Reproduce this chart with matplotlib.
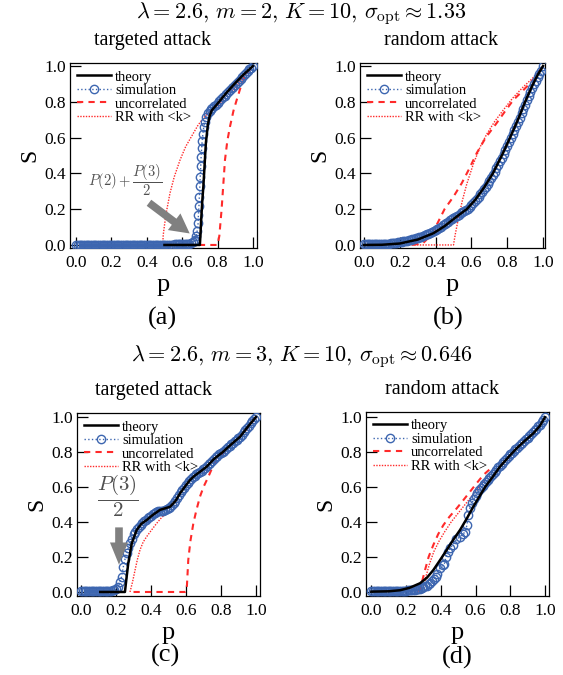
import numpy as np
import matplotlib
import matplotlib.pyplot as plt

matplotlib.use("Agg")

plt.rcParams["font.family"] = ["Liberation Serif", "DejaVu Serif"]
plt.rcParams["mathtext.fontset"] = "cm"

# ---------------- panel (a): m=2, targeted attack ----------------
theory_p_a = [0.50, 0.70, 0.703, 0.708, 0.714, 0.72, 0.727, 0.734, 0.745, 0.755, 0.767,
              0.80, 0.85, 0.90, 0.95, 1.0]
theory_S_a = [0.0, 0.0, 0.05, 0.15, 0.25, 0.33, 0.45, 0.57, 0.67, 0.72, 0.752,
              0.79, 0.85, 0.905, 0.955, 1.0]
sim_p_a = [0.00, 0.01, 0.02, 0.03, 0.04, 0.05, 0.06, 0.07, 0.08, 0.09,
           0.10, 0.11, 0.12, 0.13, 0.14, 0.15, 0.16, 0.17, 0.18, 0.19,
           0.20, 0.21, 0.22, 0.23, 0.24, 0.25, 0.26, 0.27, 0.28, 0.29,
           0.30, 0.31, 0.32, 0.33, 0.34, 0.35, 0.36, 0.37, 0.38, 0.39,
           0.40, 0.41, 0.42, 0.43, 0.44, 0.45, 0.46, 0.47, 0.48, 0.49,
           0.50, 0.51, 0.52, 0.53, 0.54, 0.55, 0.56, 0.57, 0.58, 0.59,
           0.60, 0.61, 0.62, 0.63, 0.64, 0.65, 0.66,
           0.67, 0.675, 0.68, 0.685, 0.69, 0.692, 0.695, 0.697, 0.70, 0.702, 0.705,
           0.707, 0.71, 0.713, 0.717, 0.722, 0.728, 0.735, 0.745, 0.755, 0.765,
           0.77, 0.78, 0.79, 0.80, 0.81, 0.82, 0.83, 0.84, 0.85, 0.86,
           0.87, 0.88, 0.89, 0.90, 0.91, 0.92, 0.93, 0.94, 0.95, 0.96,
           0.97, 0.98, 0.99, 1.00]
sim_S_a = [0.0, 0.0, 0.0, 0.0, 0.0, 0.0, 0.0, 0.0, 0.0, 0.0,
           0.0, 0.0, 0.0, 0.0, 0.0, 0.0, 0.0, 0.0, 0.0, 0.0,
           0.0, 0.0, 0.0, 0.0, 0.0, 0.0, 0.0, 0.0, 0.0, 0.0,
           0.0, 0.0, 0.0, 0.0, 0.0, 0.0, 0.0, 0.0, 0.0, 0.0,
           0.0, 0.0, 0.0, 0.0, 0.001, 0.001, 0.001, 0.001, 0.001, 0.001,
           0.002, 0.002, 0.002, 0.002, 0.002, 0.002, 0.003, 0.003, 0.003, 0.003,
           0.003, 0.004, 0.005, 0.006, 0.008, 0.011, 0.015,
           0.022, 0.03, 0.05, 0.08, 0.12, 0.17, 0.22, 0.27, 0.33, 0.38, 0.44,
           0.49, 0.54, 0.58, 0.62, 0.66, 0.69, 0.715, 0.735, 0.75, 0.76,
           0.765, 0.775, 0.785, 0.795, 0.805, 0.815, 0.825, 0.835, 0.845, 0.855,
           0.865, 0.875, 0.885, 0.895, 0.905, 0.915, 0.927, 0.94, 0.952, 0.963,
           0.973, 0.982, 0.991, 1.0]
unc_p_a = [0.50, 0.80, 0.81, 0.823, 0.832, 0.842, 0.855, 0.87, 0.89, 0.908, 0.93, 0.955, 0.975, 1.0]
unc_S_a = [0.0, 0.0, 0.05, 0.2, 0.33, 0.475, 0.58, 0.66, 0.75, 0.81, 0.88, 0.94, 0.97, 1.0]
rr_p_a = [0.49, 0.493, 0.50, 0.51, 0.531, 0.555, 0.588, 0.62, 0.663, 0.69, 0.719, 0.75,
          0.80, 0.85, 0.90, 0.95, 1.0]
rr_S_a = [0.0, 0.056, 0.11, 0.18, 0.289, 0.38, 0.475, 0.55, 0.624, 0.67, 0.708, 0.74,
          0.78, 0.83, 0.88, 0.94, 1.0]

# ---------------- panel (b): m=2, random attack ----------------
theory_p_b = [0.0, 0.10, 0.20, 0.30, 0.387, 0.45, 0.52, 0.574, 0.62, 0.67, 0.72, 0.77,
              0.816, 0.86, 0.90, 0.94, 0.97, 1.0]
theory_S_b = [0.0, 0.001, 0.008, 0.03, 0.065, 0.105, 0.16, 0.2, 0.25, 0.32, 0.4, 0.5,
              0.6, 0.7, 0.8, 0.89, 0.95, 1.0]
sim_p_b = [0.00, 0.01, 0.02, 0.03, 0.04, 0.05, 0.06, 0.07, 0.08, 0.09,
           0.10, 0.11, 0.12, 0.13, 0.14, 0.15, 0.16, 0.17, 0.18, 0.19,
           0.20, 0.21, 0.22, 0.23, 0.24, 0.25, 0.26, 0.27, 0.28, 0.29,
           0.30, 0.31, 0.32, 0.33, 0.34, 0.35, 0.36, 0.37, 0.38, 0.39,
           0.40, 0.41, 0.42, 0.43, 0.44, 0.45, 0.46, 0.47, 0.48, 0.49,
           0.50, 0.51, 0.52, 0.53, 0.54, 0.55, 0.56, 0.57, 0.58, 0.59,
           0.60, 0.61, 0.62, 0.63, 0.64, 0.65, 0.66, 0.67, 0.68, 0.69,
           0.70, 0.71, 0.72, 0.73, 0.74, 0.75, 0.76, 0.77, 0.78, 0.79,
           0.80, 0.81, 0.82, 0.83, 0.84, 0.85, 0.86, 0.87, 0.88, 0.89,
           0.90, 0.91, 0.92, 0.93, 0.94, 0.95, 0.96, 0.97, 0.98, 0.99, 1.00]
sim_S_b = [0.005, 0.005, 0.005, 0.005, 0.005, 0.005, 0.005, 0.005, 0.006, 0.006,
           0.006, 0.006, 0.007, 0.007, 0.008, 0.009, 0.010, 0.011, 0.012, 0.014,
           0.016, 0.018, 0.020, 0.022, 0.024, 0.026, 0.029, 0.032, 0.035, 0.038,
           0.040, 0.043, 0.047, 0.051, 0.055, 0.059, 0.064, 0.069, 0.074, 0.079,
           0.085, 0.091, 0.097, 0.103, 0.109, 0.116, 0.123, 0.130, 0.137, 0.145,
           0.152, 0.158, 0.164, 0.170, 0.176, 0.182, 0.188, 0.195, 0.202, 0.210,
           0.222, 0.233, 0.243, 0.256, 0.270, 0.284, 0.298, 0.312, 0.326, 0.342,
           0.358, 0.374, 0.390, 0.408, 0.428, 0.448, 0.468, 0.488, 0.509, 0.530,
           0.552, 0.574, 0.596, 0.618, 0.641, 0.664, 0.686, 0.710, 0.735, 0.760,
           0.785, 0.809, 0.832, 0.854, 0.877, 0.898, 0.918, 0.938, 0.957, 0.975, 1.0]
unc_p_b = [0.27, 0.33, 0.37, 0.41, 0.45, 0.50, 0.546, 0.59, 0.629, 0.68, 0.74, 0.79, 0.834,
           0.88, 0.918, 0.96, 1.0]
unc_S_b = [0.0, 0.01, 0.05, 0.12, 0.2, 0.27, 0.345, 0.43, 0.512, 0.6, 0.68, 0.75, 0.81,
           0.855, 0.894, 0.94, 1.0]
rr_p_b = [0.25, 0.50, 0.51, 0.527, 0.55, 0.574, 0.611, 0.65, 0.686, 0.73, 0.778, 0.83, 0.89,
          0.94, 1.0]
rr_S_b = [0.0, 0.0, 0.06, 0.146, 0.25, 0.34, 0.453, 0.55, 0.62, 0.69, 0.754, 0.82, 0.884,
          0.93, 1.0]

# ---------------- panel (c): m=3, targeted attack ----------------
theory_p_c = [0.11, 0.251, 0.26, 0.27, 0.29, 0.318, 0.345, 0.375, 0.41, 0.451, 0.48, 0.509,
              0.54, 0.566, 0.60, 0.623, 0.65, 0.68, 0.718, 0.76, 0.813, 0.86, 0.909, 0.95, 1.0]
theory_S_c = [0.0, 0.0, 0.08, 0.164, 0.278, 0.354, 0.39, 0.411, 0.44, 0.469, 0.478, 0.487,
              0.52, 0.564, 0.61, 0.64, 0.665, 0.687, 0.716, 0.76, 0.802, 0.845, 0.887, 0.94, 1.0]
sim_p_c = [0.00, 0.01, 0.02, 0.03, 0.04, 0.05, 0.06, 0.07, 0.08, 0.09,
           0.10, 0.11, 0.12, 0.13, 0.14, 0.15, 0.16, 0.17, 0.18, 0.19, 0.20,
           0.213, 0.222, 0.232, 0.242, 0.252, 0.261,
           0.27, 0.28, 0.29, 0.30, 0.31, 0.32, 0.33, 0.34, 0.35, 0.36,
           0.37, 0.38, 0.39, 0.40, 0.41, 0.42, 0.43, 0.44, 0.45, 0.46,
           0.47, 0.48, 0.49, 0.50,
           0.51, 0.52, 0.53, 0.54, 0.55, 0.56, 0.57, 0.58, 0.59, 0.60,
           0.61, 0.62, 0.63, 0.64, 0.65, 0.66, 0.67, 0.68, 0.69, 0.70,
           0.71, 0.72, 0.73, 0.74, 0.75, 0.76, 0.77, 0.78, 0.79, 0.80,
           0.81, 0.82, 0.83, 0.84, 0.85, 0.86, 0.87, 0.88, 0.89, 0.90,
           0.91, 0.92, 0.93, 0.94, 0.95, 0.96, 0.97, 0.98, 0.99, 1.00]
sim_S_c = [0.005, 0.005, 0.005, 0.005, 0.005, 0.005, 0.005, 0.005, 0.005, 0.005,
           0.005, 0.006, 0.006, 0.006, 0.007, 0.007, 0.008, 0.008, 0.009, 0.010, 0.015,
           0.03, 0.055, 0.087, 0.145, 0.19, 0.221,
           0.25, 0.28, 0.305, 0.33, 0.345, 0.36, 0.373, 0.385, 0.395, 0.405,
           0.413, 0.42, 0.428, 0.435, 0.443, 0.45, 0.455, 0.46, 0.462, 0.463,
           0.465, 0.468, 0.472, 0.478,
           0.488, 0.497, 0.508, 0.52, 0.536, 0.553, 0.57, 0.584, 0.597, 0.61,
           0.623, 0.636, 0.646, 0.655, 0.664, 0.672, 0.68, 0.687, 0.694, 0.702,
           0.71, 0.718, 0.729, 0.74, 0.751, 0.761, 0.77, 0.778, 0.786, 0.793,
           0.8, 0.808, 0.817, 0.827, 0.836, 0.845, 0.854, 0.862, 0.871, 0.879,
           0.888, 0.9, 0.913, 0.926, 0.939, 0.951, 0.963, 0.976, 0.988, 1.0]
unc_p_c = [0.30, 0.594, 0.604, 0.613, 0.625, 0.642, 0.66, 0.68, 0.70, 0.728, 0.75, 0.775,
           0.804, 0.85, 0.90, 0.95, 1.0]
unc_S_c = [0.0, 0.0, 0.01, 0.183, 0.29, 0.392, 0.47, 0.545, 0.6, 0.659, 0.71, 0.754,
           0.783, 0.835, 0.88, 0.935, 1.0]
rr_p_c = [0.28, 0.295, 0.309, 0.322, 0.337, 0.355, 0.375, 0.40, 0.432, 0.46, 0.49, 0.51]
rr_S_c = [0.0, 0.06, 0.126, 0.185, 0.24, 0.285, 0.316, 0.35, 0.392, 0.425, 0.45, 0.46]

# ---------------- panel (d): m=3, random attack ----------------
theory_p_d = [0.0, 0.10, 0.165, 0.22, 0.28, 0.32, 0.357, 0.395, 0.434, 0.47, 0.511, 0.55,
              0.587, 0.625, 0.655, 0.70, 0.741, 0.79, 0.837, 0.885, 0.933, 0.97, 1.0]
theory_S_d = [0.0, 0.002, 0.008, 0.022, 0.048, 0.08, 0.124, 0.18, 0.239, 0.295, 0.354, 0.42,
              0.487, 0.55, 0.6, 0.66, 0.717, 0.772, 0.822, 0.866, 0.908, 0.95, 1.0]
sim_p_d = [0.00, 0.01, 0.02, 0.03, 0.04, 0.05, 0.06, 0.07, 0.08, 0.09,
           0.10, 0.11, 0.12, 0.13, 0.14, 0.15, 0.16, 0.17, 0.18, 0.19,
           0.20, 0.21, 0.22, 0.23, 0.24, 0.25, 0.26, 0.27, 0.28, 0.29,
           0.30, 0.31, 0.32, 0.33,
           0.338, 0.35, 0.36, 0.37, 0.38, 0.395, 0.41, 0.42, 0.43, 0.44, 0.453,
           0.47, 0.49, 0.511, 0.525, 0.539, 0.55, 0.559, 0.568, 0.578, 0.59,
           0.60, 0.61, 0.62, 0.63, 0.64, 0.65, 0.66, 0.67, 0.68, 0.69,
           0.70, 0.71, 0.72, 0.73, 0.74, 0.75, 0.76, 0.77, 0.78, 0.79,
           0.80, 0.81, 0.82, 0.83, 0.84, 0.85, 0.86, 0.87, 0.88, 0.89,
           0.90, 0.91, 0.92, 0.93, 0.94, 0.95, 0.96, 0.97, 0.98, 0.99, 1.00]
sim_S_d = [0.005, 0.005, 0.005, 0.005, 0.005, 0.005, 0.005, 0.005, 0.005, 0.005,
           0.005, 0.005, 0.005, 0.005, 0.005, 0.005, 0.005, 0.005, 0.005, 0.005,
           0.006, 0.007, 0.008, 0.009, 0.010, 0.012, 0.014, 0.016, 0.018, 0.021,
           0.025, 0.03, 0.035, 0.042,
           0.048, 0.06, 0.07, 0.085, 0.1, 0.134, 0.15, 0.16, 0.2, 0.225, 0.249,
           0.27, 0.3, 0.315, 0.33, 0.34, 0.38, 0.44, 0.48, 0.507, 0.53,
           0.55, 0.565, 0.58, 0.592, 0.604, 0.616, 0.628, 0.64, 0.652, 0.664,
           0.676, 0.688, 0.7, 0.712, 0.723, 0.734, 0.745, 0.756, 0.766, 0.777,
           0.787, 0.797, 0.807, 0.817, 0.826, 0.836, 0.845, 0.855, 0.864, 0.874,
           0.883, 0.893, 0.903, 0.913, 0.924, 0.935, 0.947, 0.958, 0.97, 0.985, 1.0]
unc_p_d = [0.27, 0.28, 0.295, 0.309, 0.33, 0.357, 0.385, 0.415, 0.45, 0.492, 0.53, 0.568,
           0.605, 0.645, 0.68, 0.70]
unc_S_d = [0.0, 0.01, 0.07, 0.124, 0.2, 0.268, 0.33, 0.382, 0.43, 0.478, 0.525, 0.573,
           0.62, 0.669, 0.7, 0.71]
rr_p_d = [0.29, 0.30, 0.315, 0.335, 0.36, 0.39, 0.42, 0.46, 0.50, 0.54, 0.58, 0.62, 0.66, 0.70]
rr_S_d = [0.0, 0.03, 0.09, 0.16, 0.23, 0.29, 0.34, 0.40, 0.45, 0.50, 0.55, 0.60, 0.65, 0.70]

ticks = [0.0, 0.2, 0.4, 0.6, 0.8, 1.0]
legend_labels = ["theory", "simulation", "uncorrelated", "RR with <k>"]

blue = "#3d66b0"
red = "#ff2a2a"

W, H = 563, 675
fig = plt.figure(figsize=(W / 100, H / 100), dpi=100)


def px_axes(l, t, r, b):
    return fig.add_axes([l / W, 1 - b / H, (r - l) / W, (b - t) / H])


def draw(ax, th, sim, unc, rr, xlim, ylim, title, title_x):
    ax.plot(*th, "-", color="black", lw=1.8, label=legend_labels[0], zorder=4)
    ax.plot(*sim, ":", color=blue, lw=1.0, marker="o", ms=6, mfc="none", mec=blue,
            mew=1.0, label=legend_labels[1], zorder=3)
    ax.plot(*unc, "--", color=red, lw=1.5, dashes=(3, 2.5), label=legend_labels[2], zorder=2)
    ax.plot(*rr, ":", color=red, lw=1.0, dashes=(1, 1), label=legend_labels[3], zorder=2)
    ax.set_xlim(*xlim)
    ax.set_ylim(*ylim)
    ax.set_xticks(ticks)
    ax.set_yticks(ticks)
    ax.xaxis.set_major_formatter(matplotlib.ticker.FormatStrFormatter("%.1f"))
    ax.yaxis.set_major_formatter(matplotlib.ticker.FormatStrFormatter("%.1f"))
    ax.tick_params(direction="in", length=8, width=0.9, labelsize=12.5)
    ax.tick_params(axis="x", pad=5)
    ax.tick_params(axis="y", pad=3)
    for s in ax.spines.values():
        s.set_linewidth(0.9)
    ax.set_xlabel("p", fontsize=19, labelpad=2)
    ax.set_ylabel("S", fontsize=17, labelpad=3)
    ax.set_title(title, fontsize=14.5, x=title_x, pad=13)
    ax.legend(loc="upper left", frameon=False, fontsize=10.5, handlelength=2.3,
              handletextpad=0.3, labelspacing=0.02, borderaxespad=0.2,
              borderpad=0.3, numpoints=1)


ax_a = px_axes(70, 63, 257, 248)
draw(ax_a, (theory_p_a, theory_S_a), (sim_p_a, sim_S_a), (unc_p_a, unc_S_a),
     (rr_p_a, rr_S_a), (-0.034, 1.023), (-0.017, 1.017), "targeted attack", 0.44)
ax_a.annotate("", xy=(0.655, 0.055), xytext=(0.40, 0.245),
              arrowprops=dict(arrowstyle="simple,head_length=1.4,head_width=1.5,tail_width=0.55",
                              fc="#808080", ec="none"))
ax_a.text(0.28, 0.36, r"$P(2)+\dfrac{P(3)}{2}$", fontsize=10.5, color="#505050",
          ha="center", va="center")

ax_b = px_axes(360, 63, 545, 248)
draw(ax_b, (theory_p_b, theory_S_b), (sim_p_b, sim_S_b), (unc_p_b, unc_S_b),
     (rr_p_b, rr_S_b), (-0.022, 1.011), (-0.017, 1.017), "random attack", 0.44)

ax_c = px_axes(77, 413, 260, 596)
draw(ax_c, (theory_p_c, theory_S_c), (sim_p_c, sim_S_c), (unc_p_c, unc_S_c),
     (rr_p_c, rr_S_c), (-0.023, 1.023), (-0.023, 1.023), "targeted attack", 0.417)
ax_c.annotate("", xy=(0.217, 0.14), xytext=(0.217, 0.385),
              arrowprops=dict(arrowstyle="simple,head_length=1.6,head_width=1.3,tail_width=0.55",
                              fc="#808080", ec="none"))
ax_c.text(0.21, 0.55, r"$\dfrac{P(3)}{2}$", fontsize=15, color="#505050",
          ha="center", va="center")

ax_d = px_axes(366, 412, 549, 596)
draw(ax_d, (theory_p_d, theory_S_d), (sim_p_d, sim_S_d), (unc_p_d, unc_S_d),
     (rr_p_d, rr_S_d), (-0.031, 1.023), (-0.025, 1.03), "random attack", 0.414)

fig.text(301 / W, 1 - 18.5 / H, r"$\lambda=2.6,\, m=2,\, K=10,\, \sigma_{\rm opt}\approx 1.33$",
         fontsize=16, ha="center", va="baseline")
fig.text(301.5 / W, 1 - 361 / H, r"$\lambda=2.6,\, m=3,\, K=10,\, \sigma_{\rm opt}\approx 0.646$",
         fontsize=16, ha="center", va="baseline")

for lab, x, y in [("(a)", 162, 325), ("(b)", 448, 325), ("(c)", 165, 662), ("(d)", 457, 664)]:
    fig.text(x / W, 1 - y / H, lab, fontsize=19, ha="center", va="baseline")

fig.savefig("out.png", dpi=100)
